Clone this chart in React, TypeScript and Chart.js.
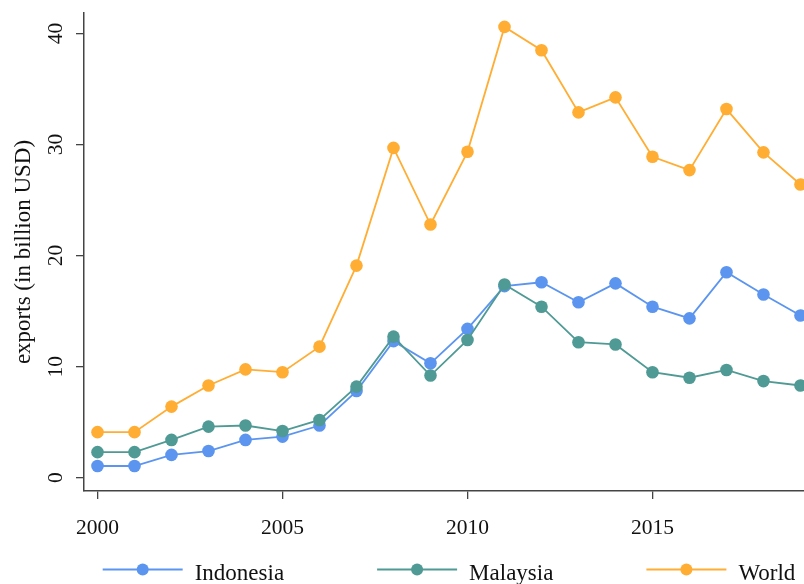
import React, { useEffect, useRef } from "react";
import { Chart, registerables } from "chart.js";

Chart.register(...registerables);

const years = [2000, 2001, 2002, 2003, 2004, 2005, 2006, 2007, 2008, 2009, 2010, 2011, 2012, 2013, 2014, 2015, 2016, 2017, 2018, 2019];
const indonesia = [1.05, 1.05, 2.05, 2.4, 3.4, 3.7, 4.7, 7.8, 12.3, 10.3, 13.4, 17.25, 17.6, 15.8, 17.5, 15.4, 14.35, 18.5, 16.5, 14.6];
const malaysia = [2.3, 2.3, 3.4, 4.6, 4.7, 4.2, 5.2, 8.2, 12.7, 9.2, 12.4, 17.4, 15.4, 12.2, 12.0, 9.5, 9.0, 9.7, 8.7, 8.3];
const world = [4.1, 4.1, 6.4, 8.3, 9.75, 9.5, 11.8, 19.1, 29.7, 22.8, 29.35, 40.6, 38.5, 32.9, 34.25, 28.9, 27.7, 33.2, 29.3, 26.4];
const seriesLabels = ["Indonesia", "Malaysia", "World"];
const seriesColors = ["#5b95ef", "#4f9a94", "#ffad33"];
const xTicks = [2000, 2005, 2010, 2015];
const yTicks = [0, 10, 20, 30, 40];
const yTitle = "exports (in billion USD)";

const FONT = "'Liberation Serif', 'Times New Roman', serif";

const legendPlugin = {
  id: "customLegend",
  afterDraw(chart: any) {
    const ctx = chart.ctx;
    const ds = chart.data.datasets;
    ctx.save();
    ctx.font = `23px ${FONT}`;
    const lineLen = 80;
    const textGap = 12;
    const itemGap = 93;
    const widths = ds.map((d: any) => lineLen + textGap + ctx.measureText(d.label).width);
    const total = widths.reduce((a: number, b: number) => a + b, 0) + itemGap * (ds.length - 1);
    let x = 449 - total / 2;
    const y = 569.5;
    ds.forEach((d: any, i: number) => {
      ctx.strokeStyle = d.borderColor;
      ctx.lineWidth = 2;
      ctx.beginPath();
      ctx.moveTo(x, y);
      ctx.lineTo(x + lineLen, y);
      ctx.stroke();
      ctx.fillStyle = d.borderColor;
      ctx.beginPath();
      ctx.arc(x + lineLen / 2, y, 6, 0, Math.PI * 2);
      ctx.fill();
      ctx.fillStyle = "#111";
      ctx.textBaseline = "alphabetic";
      ctx.textAlign = "left";
      ctx.fillText(d.label, x + lineLen + textGap, 580);
      x += widths[i] + itemGap;
    });
    ctx.restore();
  },
};

export default function App() {
  const ref = useRef<HTMLCanvasElement>(null);
  useEffect(() => {
    document.body.style.margin = "0";
    const seriesData = [indonesia, malaysia, world];
    const chart = new Chart(ref.current as HTMLCanvasElement, {
      type: "line",
      data: {
        datasets: seriesData.map((vals, i) => ({
          label: seriesLabels[i],
          data: years.map((yr, j) => ({ x: yr, y: vals[j] })),
          borderColor: seriesColors[i],
          backgroundColor: seriesColors[i],
          pointBackgroundColor: seriesColors[i],
          pointBorderWidth: 0,
          pointRadius: 6.3,
          borderWidth: 1.8,
          order: 3 - i,
          clip: false as any,
          tension: 0,
        })),
      },
      options: {
        animation: false,
        responsive: false,
        events: [],
        layout: { autoPadding: false, padding: { top: 13, left: 0, right: 0, bottom: 0 } },
        plugins: { legend: { display: false }, tooltip: { enabled: false } },
        scales: {
          x: {
            type: "linear",
            min: 1999.635,
            max: 2019.095,
            afterBuildTicks: (s: any) => {
              s.ticks = xTicks.map((v) => ({ value: v }));
            },
            afterFit: (s: any) => {
              s.height = 93;
              s.paddingLeft = 0;
              s.paddingRight = 0;
              s.paddingTop = 0;
              s.paddingBottom = 0;
            },
            grid: { display: true, drawOnChartArea: false, drawTicks: true, tickLength: 8, color: "#444", lineWidth: 1.3 },
            border: { display: true, color: "#444", width: 1.5 },
            ticks: {
              padding: 16,
              maxRotation: 0,
              minRotation: 0,
              color: "#111",
              font: { family: FONT, size: 21.5 },
              callback: (v: any) => String(v),
            },
          },
          y: {
            type: "linear",
            min: -1.2,
            max: 41.85,
            afterBuildTicks: (s: any) => {
              s.ticks = yTicks.map((v) => ({ value: v }));
            },
            afterFit: (s: any) => {
              s.width = 84;
              s.paddingLeft = 0;
              s.paddingRight = 0;
              s.paddingTop = 0;
              s.paddingBottom = 0;
            },
            grid: { display: true, drawOnChartArea: false, drawTicks: true, tickLength: 8, color: "#444", lineWidth: 1.3 },
            border: { display: true, color: "#444", width: 1.5 },
            title: {
              display: true,
              text: yTitle,
              color: "#111",
              font: { family: FONT, size: 23, lineHeight: 1 },
              padding: { top: 12, bottom: 0 },
            },
            ticks: {
              padding: 9,
              minRotation: 90,
              maxRotation: 90,
              crossAlign: "center",
              color: "#111",
              font: { family: FONT, size: 21.5 },
              callback: (v: any) => String(v),
            },
          },
        },
      },
      plugins: [legendPlugin],
    });
    return () => chart.destroy();
  }, []);
  return <canvas ref={ref} width={804} height={584} style={{ display: "block" }} />;
}
